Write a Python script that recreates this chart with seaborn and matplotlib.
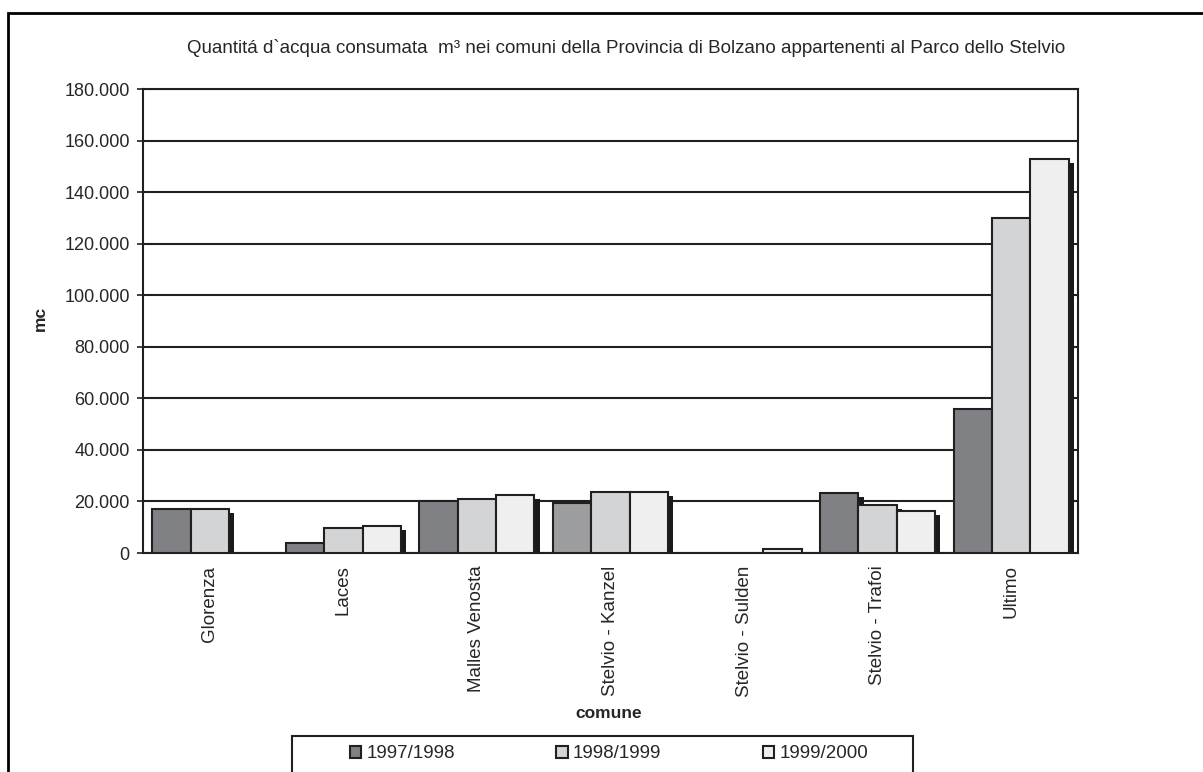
import numpy as np
import pandas as pd
import matplotlib
matplotlib.use('Agg')
import matplotlib.pyplot as plt
import matplotlib.patheffects as pe
from matplotlib.patches import Rectangle
import seaborn as sns

# ── DATA ──────────────────────────────────────────────
comuni = ['Glorenza', 'Laces', 'Malles Venosta', 'Stelvio - Kanzel',
          'Stelvio - Sulden', 'Stelvio - Trafoi', 'Ultimo']
anni = ['1997/1998', '1998/1999', '1999/2000']
v_1997 = [17100, 3900, 20200, 19400, np.nan, 23300, 55900]
v_1998 = [17000, 9700, 20900, 23700, np.nan, 18600, 130000]
v_1999 = [np.nan, 10500, 22500, 23700, 1600, 16300, 153000]
y_ticks = list(range(0, 180001, 20000))

df = pd.DataFrame({'comune': comuni * 3,
                   'anno': [a for a in anni for _ in comuni],
                   'mc': v_1997 + v_1998 + v_1999})

colori = ['#808184', '#d3d4d6', '#eeefee']
edge = '#231f20'

# ── PLOT ──────────────────────────────────────────────
sns.set_style('white')
plt.rcParams['font.family'] = ['Liberation Sans', 'DejaVu Sans']

fig = plt.figure(figsize=(12.03, 7.72), dpi=100)
ax = fig.add_axes([143 / 1203, 1 - 553 / 772, 935 / 1203, 464 / 772])

sns.barplot(data=df, x='comune', y='mc', hue='anno', palette=colori,
            edgecolor=edge, linewidth=1.5, width=0.86, errorbar=None,
            saturation=1, ax=ax, zorder=3)

shadow = [pe.SimplePatchShadow(offset=(3.8, -2.9), shadow_rgbFace='#1a1a1a', alpha=1.0),
          pe.Normal()]
for p in ax.patches:
    p.set_path_effects(shadow)

# the Kanzel 1997/1998 bar is a lighter grey in the original
for bar in ax.containers[0]:
    if abs(bar.get_x() + bar.get_width() / 2 - (3 - 0.86 / 3)) < 0.05:
        bar.set_facecolor('#9c9d9f')

ax.set_ylim(0, 180000)
ax.set_xlim(-0.5, len(comuni) - 0.5)
ax.set_yticks(y_ticks)
ax.set_yticklabels([f'{v:,.0f}'.replace(',', '.') for v in y_ticks], fontsize=13)
ax.tick_params(axis='y', direction='inout', length=9, width=1.2, color=edge, pad=5, left=True)
ax.tick_params(axis='x', length=0, pad=9)
ax.set_xticks(range(len(comuni)))
ax.set_xticklabels(comuni, rotation=90, fontsize=13.5, va='top')

ax.grid(axis='y', color=edge, linewidth=1.5, zorder=0)
ax.set_axisbelow(True)
for s in ax.spines.values():
    s.set_visible(True)
    s.set_color(edge)
    s.set_linewidth(1.5)

ax.set_xlabel('')
ax.set_ylabel('')
fig.text(40 / 1203, 1 - 318 / 772, 'mc', rotation=90, fontsize=12.5,
         fontweight='bold', ha='center', va='center')
fig.text(609 / 1203, 1 - 713 / 772, 'comune', fontsize=12.5,
         fontweight='bold', ha='center', va='center')
fig.text(626 / 1203, 1 - 48 / 772,
         'Quantitá d`acqua consumata  m³ nei comuni della Provincia di Bolzano '
         'appartenenti al Parco dello Stelvio', fontsize=13.5, ha='center', va='center')

# legend
handles, labels = ax.get_legend_handles_labels()
ax.get_legend().remove()
for h in handles:
    h.set_path_effects([])
leg = fig.legend(handles, labels, loc='center', ncol=3,
                 bbox_to_anchor=(609 / 1203, 1 - 754 / 772), frameon=False,
                 fontsize=13.5, handlelength=0.6, handleheight=0.6,
                 handletextpad=0.3, columnspacing=5.4)
fig.patches.append(Rectangle((292 / 1203, -0.05), 621 / 1203, 0.05 + 36 / 772,
                             transform=fig.transFigure, fill=False,
                             edgecolor=edge, linewidth=1.5))

# outer chart frame
fig.patches.append(Rectangle((8 / 1203, -0.05), 1.1, 0.05 + (772 - 13) / 772,
                             transform=fig.transFigure, fill=False,
                             edgecolor='black', linewidth=2))

plt.savefig('out.png', dpi=100)
